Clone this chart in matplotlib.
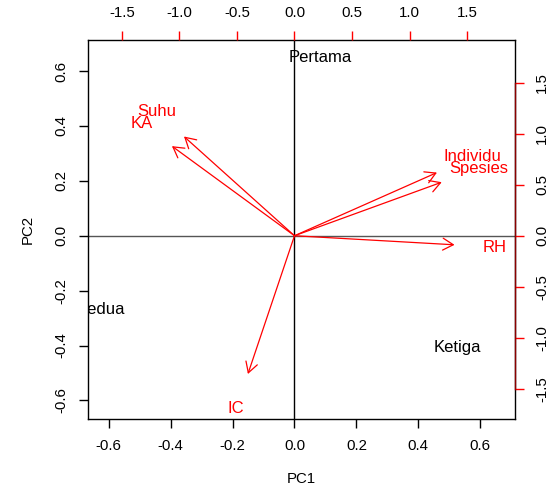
import matplotlib.pyplot as plt
import numpy as np

plt.rcParams['font.family'] = ['Liberation Sans', 'DejaVu Sans']

# scores (PC1, PC2)
obs_names = ['Pertama', 'Kedua', 'Ketiga']
obs_pc1 = [0.083, -0.626, 0.527]
obs_pc2 = [0.65, -0.268, -0.407]

# loadings (secondary scale), labels sit here, arrows go to 0.8x like R biplot
var_names = ['Suhu', 'KA', 'Individu', 'Spesies', 'RH', 'IC']
var_pc1 = [-1.20, -1.331, 1.547, 1.599, 1.738, -0.506]
var_pc2 = [1.216, 1.098, 0.774, 0.656, -0.111, -1.694]

lim = (-0.666, 0.712)
ratio = 2.69
red = '#ff0000'

fig = plt.figure(figsize=(5.57, 4.95), dpi=100)
pos = [0.1585, 0.1545, 0.766, 0.764]
ax = fig.add_axes(pos)
ax.set_xlim(lim)
ax.set_ylim(lim)
ax.axhline(0, color='#555555', lw=1)
ax.axvline(0, color='black', lw=1)
for n, x, y in zip(obs_names, obs_pc1, obs_pc2):
    ax.text(x, y, n, ha='center', va='center', fontsize=12, clip_on=True)
ax.set_xticks(np.arange(-0.6, 0.61, 0.2))
ax.set_yticks(np.arange(-0.6, 0.61, 0.2))
ax.set_xticklabels(['%.1f' % v for v in np.arange(-0.6, 0.61, 0.2)])
ax.set_yticklabels(['%.1f' % v for v in np.arange(-0.6, 0.61, 0.2)], rotation=90, va='center')
ax.tick_params(direction='out', length=6.5, width=1, labelsize=10.8, pad=8)
ax.set_xlabel('PC1', fontsize=10.8, labelpad=14)
ax.set_ylabel('PC2', fontsize=10.8, labelpad=14)
for s in ax.spines.values():
    s.set_linewidth(1)

ax2 = fig.add_axes(pos)
ax2.patch.set_visible(False)
ax2.set_xlim(lim[0] * ratio, lim[1] * ratio)
ax2.set_ylim(lim[0] * ratio, lim[1] * ratio)
for k in ['left', 'bottom', 'top']:
    ax2.spines[k].set_visible(False)
ax2.spines['right'].set_bounds(-1.5, 1.5)
ax2.spines['right'].set_color('#8b0000')
ax2.spines['right'].set_linewidth(1)
ax2.xaxis.tick_top()
ax2.yaxis.tick_right()
ticks2 = [-1.5, -1.0, -0.5, 0.0, 0.5, 1.0, 1.5]
ax2.set_xticks(ticks2)
ax2.set_yticks(ticks2)
ax2.set_xticklabels(['%.1f' % v for v in ticks2])
ax2.set_yticklabels(['%.1f' % v for v in ticks2], rotation=90, va='center')
ax2.tick_params(direction='out', length=6.5, width=1, color=red, labelsize=10.8, pad=8)

for n, x, y in zip(var_names, var_pc1, var_pc2):
    ax2.annotate('', xy=(0.8 * x, 0.8 * y), xytext=(0, 0),
                 arrowprops=dict(arrowstyle='->,head_length=0.75,head_width=0.43',
                                 color=red, lw=0.9, mutation_scale=10,
                                 shrinkA=0, shrinkB=0))
    ax2.text(x, y, n, color=red, ha='center', va='center', fontsize=12)

fig.savefig('out.png', dpi=100)
